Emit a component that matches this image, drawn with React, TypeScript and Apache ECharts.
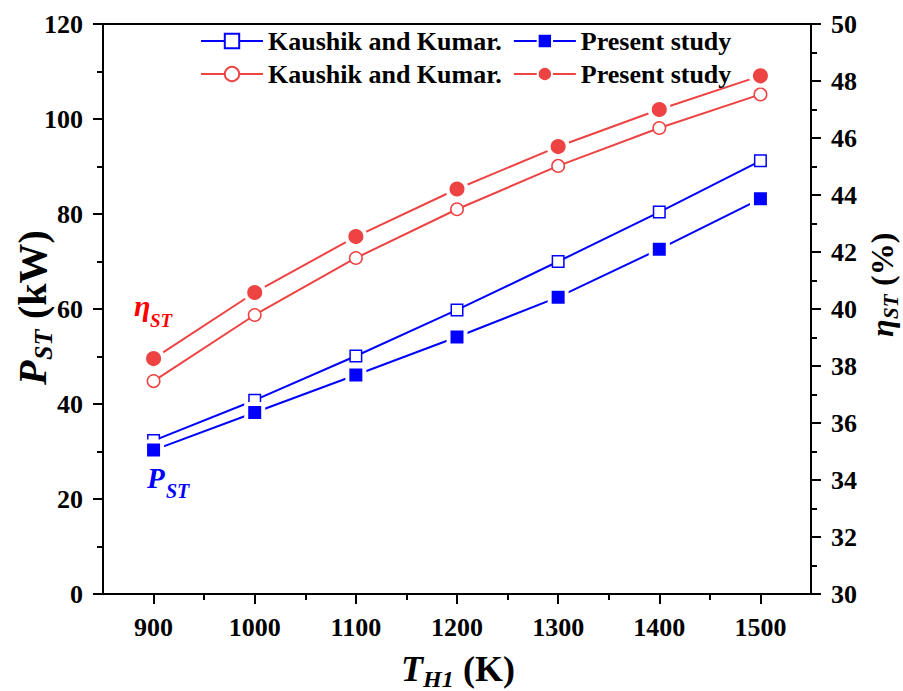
import React, { useEffect, useRef } from "react";
import * as echarts from "echarts";

// ---- data ----
const temps = [900, 1000, 1100, 1200, 1300, 1400, 1500];
const powerKaushik = [32.3, 40.8, 50.1, 59.8, 70.0, 80.4, 91.2];
const powerPresent = [30.3, 38.2, 46.1, 54.1, 62.5, 72.6, 83.2];
const effKaushik = [37.47, 39.79, 41.79, 43.5, 45.02, 46.35, 47.53];
const effPresent = [38.26, 40.58, 42.54, 44.21, 45.7, 47.0, 48.18];

const xMajorTicks = [900, 1000, 1100, 1200, 1300, 1400, 1500];
const xMinorTicks = [950, 1050, 1150, 1250, 1350, 1450];

const legendLabels: Record<string, string> = {
  pk: "Kaushik and Kumar.",
  pp: "Present study",
  ek: "Kaushik and Kumar.",
  ep: "Present study",
};

const SERIF = "Liberation Serif";
const BLUE = "#0000FF";
const RED = "#EE4343";

function txt(
  text: string,
  x: number,
  y: number,
  size: number,
  color: string,
  italic: boolean
) {
  return {
    type: "text",
    x,
    y,
    style: {
      text,
      fill: color,
      fontSize: size,
      fontWeight: "bold",
      fontStyle: italic ? "italic" : "normal",
      fontFamily: SERIF,
      align: "left",
      textAlign: "left",
      verticalAlign: "middle",
      textVerticalAlign: "middle",
    },
  };
}

export default function App() {
  const ref = useRef<HTMLDivElement>(null);

  useEffect(() => {
    if (!ref.current) return;
    const chart = echarts.init(ref.current, undefined, { renderer: "svg" });

    const axisFont = {
      fontSize: 26,
      fontWeight: "bold" as const,
      fontFamily: SERIF,
      color: "#000",
    };
    const lineBlack = { color: "#000", width: 2 };

    const option: any = {
      animation: false,
      backgroundColor: "#fff",
      textStyle: { fontFamily: SERIF },
      grid: {
        left: 103,
        right: 92,
        top: 24,
        bottom: 97,
        show: true,
        borderColor: "#000",
        borderWidth: 2,
        backgroundColor: "transparent",
        containLabel: false,
      },
      legend: [
        {
          left: 195,
          top: 21,
          orient: "horizontal",
          data: ["pk", "pp"],
          itemWidth: 62,
          itemHeight: 18,
          itemGap: 11,
          formatter: (n: string) => legendLabels[n],
          textStyle: { ...axisFont, lineHeight: 30 },
        },
        {
          left: 195,
          top: 54,
          orient: "horizontal",
          data: ["ek", "ep"],
          itemWidth: 62,
          itemHeight: 18,
          itemGap: 11,
          formatter: (n: string) => legendLabels[n],
          textStyle: { ...axisFont, lineHeight: 30 },
        },
      ],
      xAxis: [
        {
          type: "value",
          position: "bottom",
          min: 850,
          max: 1550,
          axisLine: { show: true, onZero: false, lineStyle: lineBlack },
          axisTick: {
            show: true,
            inside: false,
            length: 10,
            customValues: xMajorTicks,
            lineStyle: lineBlack,
          },
          axisLabel: {
            ...axisFont,
            margin: 20,
            customValues: xMajorTicks,
            formatter: (v: number) => String(v),
          },
          splitLine: { show: false },
        },
        {
          type: "value",
          position: "bottom",
          min: 850,
          max: 1550,
          axisLine: { show: false, onZero: false },
          axisTick: {
            show: true,
            inside: false,
            length: 6,
            customValues: xMinorTicks,
            lineStyle: lineBlack,
          },
          axisLabel: { show: false },
          splitLine: { show: false },
        },
      ],
      yAxis: [
        {
          type: "value",
          position: "left",
          min: 0,
          max: 120,
          interval: 20,
          axisLine: { show: true, onZero: false, lineStyle: lineBlack },
          axisTick: { show: true, inside: false, length: 10, lineStyle: lineBlack },
          minorTick: { show: true, splitNumber: 2, length: 6, lineStyle: lineBlack },
          axisLabel: { ...axisFont, margin: 20, formatter: (v: number) => String(v) },
          splitLine: { show: false },
        },
        {
          type: "value",
          position: "right",
          min: 30,
          max: 50,
          interval: 2,
          axisLine: { show: true, onZero: false, lineStyle: lineBlack },
          axisTick: { show: true, inside: false, length: 10, lineStyle: lineBlack },
          minorTick: { show: true, splitNumber: 2, length: 6, lineStyle: lineBlack },
          axisLabel: { ...axisFont, margin: 20, formatter: (v: number) => String(v) },
          splitLine: { show: false },
        },
      ],
      series: [
        {
          name: "pk",
          type: "line",
          xAxisIndex: 0,
          yAxisIndex: 0,
          data: temps.map((t, i) => [t, powerKaushik[i]]),
          symbol: "rect",
          symbolSize: 11.5,
          lineStyle: { color: BLUE, width: 2 },
          itemStyle: { color: "#fff", borderColor: BLUE, borderWidth: 1.5 },
          color: BLUE,
          z: 2,
        },
        {
          name: "pp",
          type: "line",
          xAxisIndex: 0,
          yAxisIndex: 0,
          data: temps.map((t, i) => [t, powerPresent[i]]),
          symbol: "rect",
          symbolSize: 17,
          lineStyle: { color: BLUE, width: 2 },
          itemStyle: { color: BLUE, borderColor: "#fff", borderWidth: 4 },
          color: BLUE,
          z: 3,
        },
        {
          name: "ek",
          type: "line",
          xAxisIndex: 0,
          yAxisIndex: 1,
          data: temps.map((t, i) => [t, effKaushik[i]]),
          symbol: "circle",
          symbolSize: 12.5,
          lineStyle: { color: RED, width: 2 },
          itemStyle: { color: "#fff", borderColor: RED, borderWidth: 1.5 },
          color: RED,
          z: 2,
        },
        {
          name: "ep",
          type: "line",
          xAxisIndex: 0,
          yAxisIndex: 1,
          data: temps.map((t, i) => [t, effPresent[i]]),
          symbol: "circle",
          symbolSize: 19,
          lineStyle: { color: RED, width: 2 },
          itemStyle: { color: RED, borderColor: "#fff", borderWidth: 4 },
          color: RED,
          z: 3,
        },
      ],
      graphic: [
        {
          type: "group",
          x: 46,
          y: 385,
          rotation: Math.PI / 2,
          children: [
            txt("P", 0, -14, 40, "#000", true),
            txt("ST", 25, -3, 26, "#000", true),
            txt("(kW)", 66, -14, 40, "#000", false),
          ],
        },
        {
          type: "group",
          x: 893,
          y: 337,
          rotation: Math.PI / 2,
          children: [
            txt("η", 0, -11, 32, "#000", true),
            txt("ST", 18, -2.5, 21, "#000", true),
            txt("(%)", 51, -11, 32, "#000", false),
          ],
        },
        txt("T", 401, 669, 36, "#000", true),
        txt("H1", 423, 679, 24, "#000", true),
        txt("(K)", 463, 669, 36, "#000", false),
        txt("η", 134, 305.5, 30, "#FF0000", true),
        txt("ST", 150, 320.5, 19, "#FF0000", true),
        txt("P", 147, 478, 29, BLUE, true),
        txt("ST", 166, 490.5, 20, BLUE, true),
      ],
    };

    chart.setOption(option);
    return () => chart.dispose();
  }, []);

  return (
    <div
      ref={ref}
      style={{ position: "fixed", left: 0, top: 0, width: 903, height: 691, background: "#fff" }}
    />
  );
}
